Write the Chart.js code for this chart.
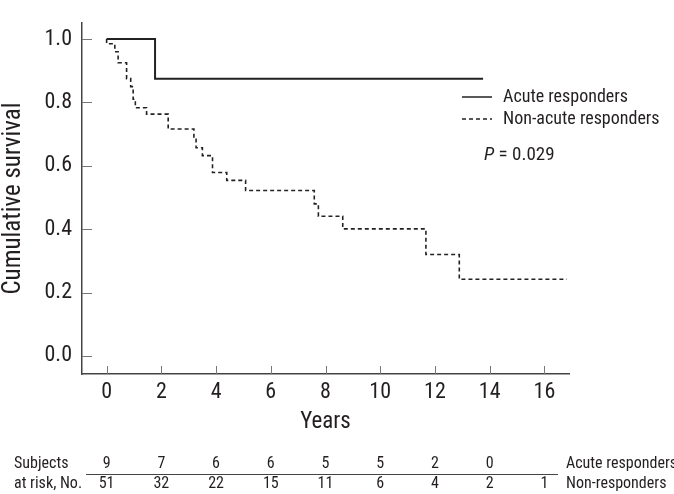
<!DOCTYPE html>
<html>
<head>
<meta charset="utf-8">
<script src="https://cdn.jsdelivr.net/npm/chart.js@4.4.1/dist/chart.umd.min.js"></script>
<style>
html, body { margin: 0; padding: 0; background: #fff; }
</style>
</head>
<body>
<canvas id="km" width="674" height="494"></canvas>
<script>
// survival curves (time in years, cumulative survival)
const acuteTimes = [0, 1.77, 13.76];
const acuteSurv = [1.0, 0.875, 0.875];
const nonTimes = [0, 0, 0.3, 0.42, 0.73, 0.88, 0.97, 1.05, 1.46, 2.25, 3.19, 3.27, 3.5, 3.87, 4.39, 5.08, 7.59, 7.74, 8.63, 11.67, 12.89, 16.82];
const nonSurv = [1.0, 0.985, 0.96, 0.925, 0.875, 0.85, 0.81, 0.783, 0.763, 0.716, 0.687, 0.657, 0.632, 0.579, 0.554, 0.522, 0.48, 0.441, 0.401, 0.32, 0.242, 0.242];

const xTicks = [0, 2, 4, 6, 8, 10, 12, 14, 16];
const yTicks = [0, 0.2, 0.4, 0.6, 0.8, 1.0];

// numbers at risk
const riskTimes = [0, 2, 4, 6, 8, 10, 12, 14, 16];
const riskAcute = [9, 7, 6, 6, 5, 5, 2, 0];
const riskNon = [51, 32, 22, 15, 11, 6, 4, 2, 1];

const pValue = '0.029';

const FONT = "'Roboto Condensed', 'Liberation Sans Narrow', 'DejaVu Sans Condensed', sans-serif";
const INK = '#231f20';

function toPoints(xs, ys) {
    let pts = [];
    for (let i = 0; i < xs.length; i++) {
        pts.push({ x: xs[i], y: ys[i] });
    }
    return pts;
}

const extras = {
    id: 'extras',
    afterDraw(chart) {
        const ctx = chart.ctx;
        const xs = chart.scales.x;
        const ys = chart.scales.y;
        ctx.save();

        // inward tick marks
        ctx.strokeStyle = '#777';
        ctx.lineWidth = 1;
        for (let v of xTicks) {
            let px = Math.round(xs.getPixelForValue(v)) + 0.5;
            ctx.beginPath();
            ctx.moveTo(px, xs.top);
            ctx.lineTo(px, xs.top - 8);
            ctx.stroke();
        }
        for (let v of yTicks) {
            let py = Math.round(ys.getPixelForValue(v)) + 0.5;
            ctx.beginPath();
            ctx.moveTo(ys.right, py);
            ctx.lineTo(ys.right + 10, py);
            ctx.stroke();
        }

        // legend
        const sets = chart.data.datasets;
        ctx.font = '18px ' + FONT;
        ctx.fillStyle = INK;
        ctx.textBaseline = 'middle';
        ctx.textAlign = 'left';
        for (let i = 0; i < sets.length; i++) {
            let y = 97 + i * 22;
            ctx.strokeStyle = sets[i].borderColor;
            ctx.lineWidth = 1.5;
            ctx.setLineDash(sets[i].borderDash || []);
            ctx.beginPath();
            ctx.moveTo(462, y);
            ctx.lineTo(492, y);
            ctx.stroke();
            ctx.setLineDash([]);
            ctx.fillText(sets[i].label, 503, y);
        }

        // p value
        ctx.font = 'italic 19px ' + FONT;
        ctx.fillText('P', 484, 155);
        let pw = ctx.measureText('P').width;
        ctx.font = '19px ' + FONT;
        ctx.fillText(' = ' + pValue, 484 + pw, 155);

        // risk table
        ctx.font = '16px ' + FONT;
        ctx.fillText('Subjects', 14, 464);
        ctx.fillText('at risk, No.', 14, 484);
        ctx.fillText('Acute responders', 566, 464);
        ctx.fillText('Non-responders', 566, 484);
        ctx.textAlign = 'center';
        for (let i = 0; i < riskAcute.length; i++) {
            ctx.fillText(String(riskAcute[i]), xs.getPixelForValue(riskTimes[i]), 464);
        }
        for (let i = 0; i < riskNon.length; i++) {
            ctx.fillText(String(riskNon[i]), xs.getPixelForValue(riskTimes[i]), 484);
        }
        ctx.strokeStyle = '#444';
        ctx.lineWidth = 1;
        ctx.beginPath();
        ctx.moveTo(86, 474.5);
        ctx.lineTo(558, 474.5);
        ctx.stroke();

        ctx.restore();
    }
};

new Chart(document.getElementById('km').getContext('2d'), {
    type: 'scatter',
    data: {
        datasets: [{
            label: 'Acute responders',
            data: toPoints(acuteTimes, acuteSurv),
            showLine: true,
            stepped: true,
            borderColor: '#222',
            borderWidth: 2,
            pointRadius: 0
        },
        {
            label: 'Non-acute responders',
            data: toPoints(nonTimes, nonSurv),
            showLine: true,
            stepped: true,
            borderColor: '#222',
            borderWidth: 1.6,
            borderDash: [4, 3],
            pointRadius: 0
        }]
    },
    options: {
        responsive: false,
        animation: false,
        layout: { padding: { top: 3, right: 105, bottom: 0, left: 0 } },
        plugins: {
            legend: { display: false },
            tooltip: { enabled: false }
        },
        scales: {
            x: {
                type: 'linear',
                min: -0.9,
                max: 16.9,
                afterBuildTicks: (s) => { s.ticks = xTicks.map(v => ({ value: v })); },
                afterFit: (s) => { s.height = 120; },
                grid: { display: false, drawTicks: false },
                border: { display: true, color: '#444', width: 1.5 },
                ticks: {
                    color: INK,
                    padding: 5,
                    font: { family: FONT, size: 22 },
                    callback: (v) => String(v)
                },
                title: {
                    display: true,
                    text: 'Years',
                    color: INK,
                    font: { family: FONT, size: 23 },
                    padding: { top: 0, bottom: 58 }
                }
            },
            y: {
                type: 'linear',
                min: -0.057,
                max: 1.05,
                afterBuildTicks: (s) => { s.ticks = yTicks.map(v => ({ value: v })); },
                afterFit: (s) => { s.width = 82; },
                grid: { display: false, drawTicks: false },
                border: { display: true, color: '#444', width: 1.5 },
                ticks: {
                    color: INK,
                    padding: 10,
                    font: { family: FONT, size: 22 },
                    callback: (v) => v.toFixed(1)
                },
                title: {
                    display: true,
                    text: 'Cumulative survival',
                    color: INK,
                    font: { family: FONT, size: 25 },
                    padding: { top: -1, bottom: 0 }
                }
            }
        }
    },
    plugins: [extras]
});
</script>
</body>
</html>
